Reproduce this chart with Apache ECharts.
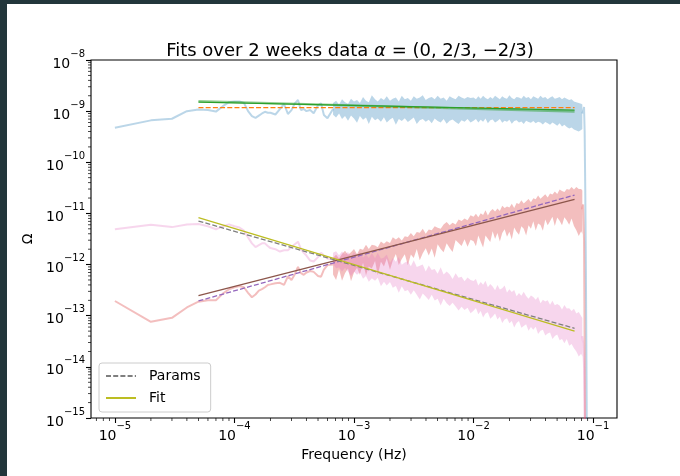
<!DOCTYPE html>
<html><head><meta charset="utf-8">
<script src="https://cdn.jsdelivr.net/npm/echarts@6/dist/echarts.min.js"></script>
<style>
html,body{margin:0;padding:0;background:#22363b;width:680px;height:476px;overflow:hidden}
#c{position:absolute;left:7px;top:4px;width:673px;height:472px;background:#fff}
</style></head><body><div id="c"></div>
<script>
// ---- low-frequency part (individual points) ----
const lowFreqs = [1e-5,2e-5,3e-5,4e-5,5e-5,6e-5,7e-5,8e-5,9e-5,1.0e-4,1.1e-4,1.2e-4,1.3e-4,1.4e-4,1.5e-4,1.6e-4,1.7e-4,1.8e-4,1.9e-4,2.0e-4,2.2e-4,2.4e-4,2.6e-4,2.8e-4,3.0e-4,3.2e-4,3.4e-4,3.6e-4,3.8e-4,4.0e-4,4.3e-4,4.6e-4,5.0e-4,5.3e-4,5.6e-4,6.0e-4,6.68e-4];
const blueLow = [4.75e-10,6.6e-10,7.1e-10,1.0e-9,1.08e-9,1.05e-9,9.8e-10,1.25e-9,1.5e-9,1.55e-9,1.55e-9,1.45e-9,1.0e-9,8.0e-10,7.4e-10,8.2e-10,9.0e-10,9.7e-10,9.3e-10,9.3e-10,8.6e-10,1.1e-9,1.38e-9,8.8e-10,1.05e-9,1.42e-9,1.65e-9,1.05e-9,1.1e-9,1.0e-9,1.05e-9,9.1e-10,1.3e-9,1.42e-9,8.4e-10,7.3e-10,1.1e-9];
const redLow = [1.94e-13,7.6e-14,9.1e-14,1.45e-13,1.88e-13,2.0e-13,2.0e-13,2.7e-13,3.3e-13,3.6e-13,3.8e-13,3.6e-13,2.8e-13,2.3e-13,2.6e-13,3.1e-13,3.3e-13,3.6e-13,4.0e-13,4.1e-13,4.3e-13,4.4e-13,4.0e-13,5.9e-13,5.0e-13,6.5e-13,9.0e-13,6.8e-13,6.3e-13,7.0e-13,7.5e-13,7.2e-13,6.0e-13,5.8e-13,8.0e-13,9.8e-13,1.0e-12];
const pinkLow = [4.9e-12,6.0e-12,5.4e-12,6.1e-12,6.2e-12,5.6e-12,4.9e-12,5.6e-12,6.1e-12,5.6e-12,5.3e-12,4.6e-12,3.4e-12,2.6e-12,2.2e-12,2.4e-12,2.6e-12,2.6e-12,2.3e-12,2.1e-12,2.0e-12,1.8e-12,1.9e-12,1.9e-12,2.2e-12,2.5e-12,2.8e-12,2.0e-12,1.7e-12,1.5e-12,1.2e-12,1.15e-12,1.4e-12,1.7e-12,1.5e-12,1.3e-12,1.3e-12];

// ---- dense part: per-bin max / min of the noisy spectrum ----
const bandFreqs = [
 6.68e-4,7.08e-4,7.50e-4,7.94e-4,8.41e-4,8.91e-4,9.44e-4,1.00e-3,1.06e-3,1.12e-3,1.19e-3,1.26e-3,1.33e-3,1.41e-3,1.50e-3,1.58e-3,1.68e-3,1.78e-3,1.88e-3,2.00e-3,2.11e-3,2.24e-3,2.37e-3,2.51e-3,2.66e-3,2.82e-3,2.99e-3,3.16e-3,3.35e-3,3.55e-3,3.76e-3,3.98e-3,4.22e-3,4.47e-3,4.73e-3,5.01e-3,5.31e-3,5.62e-3,5.96e-3,6.31e-3,6.68e-3,7.08e-3,7.50e-3,7.94e-3,8.41e-3,8.91e-3,9.44e-3,
 1.000e-2,1.047e-2,1.096e-2,1.148e-2,1.202e-2,1.259e-2,1.318e-2,1.380e-2,1.445e-2,1.514e-2,1.585e-2,1.660e-2,1.738e-2,1.820e-2,1.905e-2,1.995e-2,2.089e-2,2.188e-2,2.291e-2,2.399e-2,2.512e-2,2.630e-2,2.754e-2,2.884e-2,3.020e-2,3.162e-2,3.311e-2,3.467e-2,3.631e-2,3.802e-2,3.981e-2,4.169e-2,4.365e-2,4.571e-2,4.786e-2,5.012e-2,5.248e-2,5.495e-2,5.754e-2,6.026e-2,6.310e-2,6.607e-2,6.918e-2,7.244e-2,7.586e-2,7.943e-2,8.13e-2];
const blueHi = [
 1.45e-9,1.6e-9,1.35e-9,1.7e-9,1.5e-9,1.4e-9,1.75e-9,1.55e-9,1.65e-9,1.45e-9,1.9e-9,1.6e-9,1.5e-9,2.05e-9,1.7e-9,1.55e-9,1.8e-9,1.65e-9,1.95e-9,1.6e-9,1.75e-9,1.85e-9,1.55e-9,2.0e-9,1.7e-9,1.8e-9,1.6e-9,1.95e-9,1.75e-9,1.85e-9,2.05e-9,1.65e-9,1.8e-9,1.9e-9,1.7e-9,2.0e-9,1.75e-9,1.85e-9,1.6e-9,1.95e-9,1.8e-9,1.7e-9,2.0e-9,1.85e-9,1.75e-9,1.9e-9,1.8e-9,
 1.85e-9,1.7e-9,1.95e-9,1.75e-9,2.0e-9,1.8e-9,1.7e-9,1.9e-9,1.75e-9,2.0e-9,1.85e-9,1.7e-9,1.95e-9,1.8e-9,1.75e-9,2.05e-9,1.8e-9,1.7e-9,1.9e-9,1.85e-9,1.75e-9,2.0e-9,1.8e-9,1.9e-9,1.7e-9,1.95e-9,1.85e-9,1.75e-9,2.0e-9,1.8e-9,1.9e-9,1.7e-9,1.85e-9,1.95e-9,1.75e-9,1.8e-9,1.9e-9,1.7e-9,1.85e-9,1.75e-9,1.65e-9,1.7e-9,1.55e-9,1.5e-9,1.45e-9,1.4e-9,1.35e-9];
const blueLo = [
 8.5e-10,7.5e-10,9.0e-10,7.0e-10,8.0e-10,6.5e-10,8.2e-10,7.2e-10,5.9e-10,8.0e-10,6.8e-10,7.5e-10,5.6e-10,7.8e-10,6.6e-10,7.2e-10,6.2e-10,7.6e-10,6.0e-10,6.9e-10,7.4e-10,5.4e-10,7.0e-10,6.4e-10,7.3e-10,6.1e-10,6.8e-10,7.5e-10,5.6e-10,6.6e-10,7.0e-10,6.2e-10,6.8e-10,5.8e-10,7.2e-10,6.4e-10,6.0e-10,7.0e-10,5.7e-10,6.5e-10,6.9e-10,6.1e-10,5.6e-10,6.6e-10,6.2e-10,7.0e-10,6.0e-10,
 6.5e-10,7.0e-10,6.0e-10,6.8e-10,6.2e-10,7.2e-10,5.8e-10,6.6e-10,6.9e-10,6.0e-10,6.4e-10,7.0e-10,5.9e-10,6.5e-10,6.2e-10,6.8e-10,5.7e-10,6.4e-10,6.6e-10,6.0e-10,6.3e-10,5.6e-10,6.5e-10,6.1e-10,5.9e-10,6.4e-10,5.8e-10,6.2e-10,6.0e-10,5.5e-10,6.1e-10,5.8e-10,5.4e-10,6.0e-10,5.6e-10,5.2e-10,5.8e-10,5.0e-10,5.4e-10,4.9e-10,4.6e-10,4.8e-10,4.4e-10,4.2e-10,4.0e-10,4.3e-10,4.5e-10];
const redHi = [
 1.34e-12,1.55e-12,1.32e-12,1.61e-12,1.86e-12,1.55e-12,1.74e-12,2.02e-12,1.60e-12,2.03e-12,1.95e-12,2.43e-12,2.02e-12,2.45e-12,2.37e-12,2.17e-12,2.84e-12,2.55e-12,2.86e-12,2.64e-12,3.42e-12,3.08e-12,3.44e-12,2.94e-12,3.59e-12,3.45e-12,4.16e-12,3.58e-12,4.33e-12,4.17e-12,5.01e-12,3.99e-12,4.86e-12,4.68e-12,5.64e-12,5.25e-12,5.03e-12,6.10e-12,6.78e-12,5.88e-12,6.59e-12,6.08e-12,7.63e-12,7.11e-12,7.95e-12,7.38e-12,9.20e-12,
 8.57e-12,9.83e-12,8.44e-12,1.01e-11,9.32e-12,1.15e-11,9.14e-12,1.10e-11,1.22e-11,1.09e-11,1.25e-11,1.11e-11,1.42e-11,1.27e-11,1.36e-11,1.30e-11,1.55e-11,1.27e-11,1.60e-11,1.53e-11,1.81e-11,1.56e-11,1.74e-11,1.92e-11,1.65e-11,1.97e-11,1.89e-11,2.23e-11,1.94e-11,2.14e-11,2.37e-11,2.04e-11,2.44e-11,2.34e-11,2.67e-11,2.39e-11,2.93e-11,2.73e-11,2.61e-11,3.00e-11,2.89e-11,3.30e-11,2.95e-11,3.28e-11,3.01e-11,2.99e-11,2.8e-11];
const redLo = [
 6.4e-13,5.0e-13,8.1e-13,4.8e-13,6.8e-13,8.4e-13,4.7e-13,7.0e-13,8.7e-13,6.3e-13,1.09e-12,6.2e-13,9.2e-13,8.4e-13,1.18e-12,6.2e-13,1.14e-12,9.2e-13,1.31e-12,7.9e-13,1.19e-12,1.61e-12,9.8e-13,1.28e-12,1.60e-12,9.7e-13,1.58e-12,1.34e-12,2.01e-12,1.22e-12,1.67e-12,2.08e-12,1.51e-12,2.06e-12,1.36e-12,2.50e-12,2.01e-12,1.74e-12,2.62e-12,2.12e-12,1.76e-12,3.04e-12,2.63e-12,2.30e-12,3.12e-12,2.24e-12,3.07e-12,
 2.86e-12,2.29e-12,3.71e-12,2.78e-12,2.15e-12,3.70e-12,3.20e-12,2.75e-12,4.46e-12,3.17e-12,4.13e-12,2.84e-12,4.12e-12,4.90e-12,3.50e-12,4.40e-12,3.09e-12,5.30e-12,4.40e-12,3.84e-12,5.62e-12,5.04e-12,3.72e-12,5.89e-12,5.02e-12,7.07e-12,4.62e-12,6.34e-12,5.96e-12,4.59e-12,7.58e-12,5.87e-12,7.06e-12,8.65e-12,5.70e-12,8.28e-12,7.18e-12,5.85e-12,8.44e-12,7.25e-12,5.99e-12,7.92e-12,5.68e-12,4.68e-12,3.62e-12,4.48e-12,4.0e-12];
const pinkHi = [
 1.70e-12,1.82e-12,1.52e-12,1.80e-12,1.57e-12,1.77e-12,1.40e-12,1.74e-12,1.44e-12,1.79e-12,1.37e-12,1.57e-12,1.35e-12,1.69e-12,1.33e-12,1.70e-12,1.30e-12,1.38e-12,1.58e-12,1.09e-12,1.35e-12,1.13e-12,1.41e-12,9.9e-13,1.10e-12,1.16e-12,9.3e-13,1.21e-12,9.0e-13,9.5e-13,1.00e-12,7.3e-13,9.6e-13,7.8e-13,8.2e-13,6.6e-13,8.9e-13,6.4e-13,7.3e-13,6.5e-13,5.2e-13,6.8e-13,5.5e-13,5.8e-13,4.7e-13,5.6e-13,5.0e-13,
 4.77e-13,5.23e-13,3.90e-13,4.54e-13,4.04e-13,4.81e-13,3.62e-13,4.19e-13,3.73e-13,3.15e-13,3.97e-13,3.26e-13,3.45e-13,3.90e-13,2.84e-13,3.28e-13,2.92e-13,3.20e-13,2.39e-13,2.78e-13,2.47e-13,2.94e-13,2.43e-13,2.15e-13,2.49e-13,2.31e-13,2.06e-13,2.36e-13,1.76e-13,2.05e-13,1.90e-13,2.01e-13,1.63e-13,1.96e-13,1.61e-13,1.70e-13,1.58e-13,1.33e-13,1.62e-13,1.38e-13,1.40e-13,1.24e-13,1.37e-13,1.11e-13,1.18e-13,9.9e-14,9.0e-14];
const pinkLo = [
 1.01e-12,8.5e-13,8.8e-13,7.3e-13,8.7e-13,7.3e-13,6.0e-13,7.2e-13,6.3e-13,7.1e-13,5.3e-13,6.0e-13,4.6e-13,5.4e-13,4.8e-13,5.5e-13,3.75e-13,4.6e-13,3.9e-13,4.56e-13,3.51e-13,3.83e-13,2.82e-13,3.76e-13,3.01e-13,3.19e-13,2.56e-13,3.13e-13,2.58e-13,2.07e-13,2.71e-13,2.38e-13,2.03e-13,2.56e-13,1.98e-13,2.14e-13,1.59e-13,2.14e-13,1.76e-13,1.55e-13,1.80e-13,1.51e-13,1.26e-13,1.50e-13,1.30e-13,1.43e-13,1.12e-13,
 1.25e-13,1.41e-13,1.07e-13,1.23e-13,9.2e-14,1.10e-13,1.17e-13,8.7e-14,9.7e-14,1.10e-13,8.4e-14,9.5e-14,7.2e-14,8.4e-14,8.9e-14,7.1e-14,7.9e-14,5.9e-14,7.2e-14,7.9e-14,5.8e-14,6.3e-14,6.8e-14,5.1e-14,6.0e-14,5.3e-14,6.1e-14,4.4e-14,5.1e-14,5.3e-14,4.1e-14,4.5e-14,4.7e-14,3.5e-14,4.0e-14,4.3e-14,3.3e-14,3.5e-14,2.9e-14,3.5e-14,2.6e-14,2.8e-14,2.3e-14,2.0e-14,1.6e-14,1.8e-14,1.6e-14];

// ---- high-frequency cut-off ----
const dropFreqs = [0.0813,0.0825,0.084,0.085,0.086,0.087,0.088,0.089,0.090,0.092];
const blueDrop = [9e-10,1.0e-9,1.2e-9,4e-10,3e-11,1e-12,1e-14,1e-16,1e-18,1e-19];
const redDrop = [1.2e-11,1.5e-11,3e-12,2e-14,1e-16,1e-18,1e-19,1e-19,1e-19,1e-19];
const pinkDrop = [4e-14,3e-14,1e-14,1e-15,1e-17,1e-19,1e-19,1e-19,1e-19,1e-19];

// ---- model lines ----
const fitFreqs = [5e-5, 0.07];
const blueParams = [1.17e-9, 1.17e-9];
const blueFit = [1.50e-9, 1.05e-9];
const blueFitAlt = [1.57e-9, 0.98e-9];
const redParams = [1.94e-13, 2.29e-11];
const redFit = [2.46e-13, 1.89e-11];
const pinkParams = [7.11e-12, 5.66e-14];
const pinkFit = [8.26e-12, 5.02e-14];

// ---- axes ----
const xMin = 6.31e-6, xMax = 0.1585;
const yMin = 1e-15, yMax = 1e-8;
const xMinorTicks = [7e-6,8e-6,9e-6,
 2e-5,3e-5,4e-5,5e-5,6e-5,7e-5,8e-5,9e-5,
 2e-4,3e-4,4e-4,5e-4,6e-4,7e-4,8e-4,9e-4,
 2e-3,3e-3,4e-3,5e-3,6e-3,7e-3,8e-3,9e-3,
 2e-2,3e-2,4e-2,5e-2,6e-2,7e-2,8e-2,9e-2];
const yMinorTicks = [
 2e-15,3e-15,4e-15,5e-15,6e-15,7e-15,8e-15,9e-15,
 2e-14,3e-14,4e-14,5e-14,6e-14,7e-14,8e-14,9e-14,
 2e-13,3e-13,4e-13,5e-13,6e-13,7e-13,8e-13,9e-13,
 2e-12,3e-12,4e-12,5e-12,6e-12,7e-12,8e-12,9e-12,
 2e-11,3e-11,4e-11,5e-11,6e-11,7e-11,8e-11,9e-11,
 2e-10,3e-10,4e-10,5e-10,6e-10,7e-10,8e-10,9e-10,
 2e-9,3e-9,4e-9,5e-9,6e-9,7e-9,8e-9,9e-9];

const FONT = 'DejaVu Sans';
function supLabel(v) {
  if (!(v > 0)) return '';
  const l = Math.log10(v);
  const e = Math.round(l);
  if (Math.abs(l - e) > 0.01) return '';
  return '{b|10}{s|' + (e < 0 ? '\u2212' : '') + Math.abs(e) + '}';
}
const richTick = {
  b: {fontSize: 14, lineHeight: 22, verticalAlign: 'bottom', fontFamily: FONT, color: '#000'},
  s: {fontSize: 10, lineHeight: 12, verticalAlign: 'top', fontFamily: FONT, color: '#000'}
};
const pairs = (xs, ys) => xs.map((x, i) => [x, ys[i]]);
const common = {symbol: 'none', showSymbol: false, silent: true, animation: false};
function dataLine(name, xs, ys, color) {
  return Object.assign({type: 'line', name, data: pairs(xs, ys), color, z: 2,
    lineStyle: {color, width: 2, opacity: 0.3}}, common);
}
// dense noisy band: region between per-bin maxima and minima, mapped through the axes with api.coord
function band(name, hi, lo, color) {
  return {
    type: 'custom', name, coordinateSystem: 'cartesian2d', silent: true, animation: false, z: 2, clip: true,
    data: [[bandFreqs[0], hi[0]]],
    renderItem: function (params, api) {
      const pts = [];
      for (let i = 0; i < bandFreqs.length; i++) pts.push(api.coord([bandFreqs[i], hi[i]]));
      for (let i = bandFreqs.length - 1; i >= 0; i--) pts.push(api.coord([bandFreqs[i], lo[i]]));
      return {type: 'polygon', shape: {points: pts}, style: {fill: color, opacity: 0.3, stroke: null}};
    }
  };
}
function fitLine(name, vals, color, dashed, width, opacity) {
  return Object.assign({type: 'line', name, data: pairs(fitFreqs, vals), color, z: 3,
    lineStyle: {color, width: width || 1.3, opacity: opacity == null ? 1 : opacity, type: dashed ? [5, 2.2] : 'solid'}}, common);
}

const chart = echarts.init(document.getElementById('c'), null, {renderer: 'canvas'});
chart.setOption({
  backgroundColor: '#fff',
  animation: false,
  title: {
    text: 'Fits over 2 weeks data {a|α} = (0, 2/3, \u22122/3)',
    left: 338, top: 33, textAlign: 'center',
    textStyle: {fontSize: 18, fontWeight: 'normal', color: '#000', fontFamily: FONT,
      rich: {a: {fontSize: 18, fontStyle: 'italic', fontFamily: FONT, color: '#000'}}}
  },
  grid: {left: 84, top: 56, width: 526, height: 358, show: true, borderColor: '#000', borderWidth: 1.1, backgroundColor: 'transparent'},
  legend: {
    data: ['Params', 'Fit'], orient: 'vertical', left: 92, top: 359,
    itemWidth: 30, itemHeight: 14, itemGap: 8, padding: [6, 10, 7, 6],
    itemStyle: {opacity: 0},
    backgroundColor: 'rgba(255,255,255,0.8)', borderColor: '#cccccc', borderWidth: 1, borderRadius: 3,
    textStyle: {fontSize: 14, fontFamily: FONT, color: '#000', padding: [0, 0, 0, 8]}
  },
  xAxis: {
    type: 'log', logBase: 10, min: xMin, max: xMax,
    name: 'Frequency (Hz)', nameLocation: 'middle', nameGap: 28,
    nameTextStyle: {fontSize: 14, fontFamily: FONT, color: '#000'},
    axisLine: {show: false},
    axisTick: {show: true, length: 5, inside: false, lineStyle: {color: '#000', width: 1.1}},
    axisLabel: {formatter: supLabel, rich: richTick, margin: 3, showMinLabel: false, showMaxLabel: false},
    splitLine: {show: false}, minorTick: {show: false}
  },
  yAxis: {
    type: 'log', logBase: 10, min: yMin, max: yMax,
    name: 'Ω', nameLocation: 'middle', nameGap: 53,
    nameTextStyle: {fontSize: 14, fontFamily: FONT, color: '#000'},
    axisLine: {show: false},
    axisTick: {show: true, length: 5, inside: false, lineStyle: {color: '#000', width: 1.1}},
    axisLabel: {formatter: supLabel, rich: richTick, margin: 6},
    splitLine: {show: false}, minorTick: {show: false}
  },
  series: [
    dataLine('blue low', lowFreqs, blueLow, '#1f77b4'),
    band('blue band', blueHi, blueLo, '#1f77b4'),
    dataLine('blue cut', dropFreqs, blueDrop, '#1f77b4'),
    dataLine('red low', lowFreqs, redLow, '#d62728'),
    band('red band', redHi, redLo, '#d62728'),
    dataLine('red cut', dropFreqs, redDrop, '#d62728'),
    dataLine('pink low', lowFreqs, pinkLow, '#e377c2'),
    band('pink band', pinkHi, pinkLo, '#e377c2'),
    dataLine('pink cut', dropFreqs, pinkDrop, '#e377c2'),
    fitLine('blue params', blueParams, '#ff7f0e', true),
    fitLine('blue fit alt', blueFitAlt, '#2ca02c', false, 2.2, 0.5),
    fitLine('blue fit', blueFit, '#2ca02c', false, 1.3),
    fitLine('red params', redParams, '#9467bd', true),
    fitLine('red fit', redFit, '#8c564b', false),
    fitLine('Params', pinkParams, '#7f7f7f', true),
    fitLine('Fit', pinkFit, '#bcbd22', false),
    {type: 'scatter', name: 'x minor', data: xMinorTicks.map(f => [f, yMin]), symbol: 'rect',
      symbolSize: [0.9, 3], symbolOffset: [0, 1.5], itemStyle: {color: '#000'}, silent: true, clip: false, z: 5, animation: false},
    {type: 'scatter', name: 'y minor', data: yMinorTicks.map(v => [xMin, v]), symbol: 'rect',
      symbolSize: [3, 0.9], symbolOffset: [-1.5, 0], itemStyle: {color: '#000'}, silent: true, clip: false, z: 5, animation: false}
  ]
});
</script></body></html>
